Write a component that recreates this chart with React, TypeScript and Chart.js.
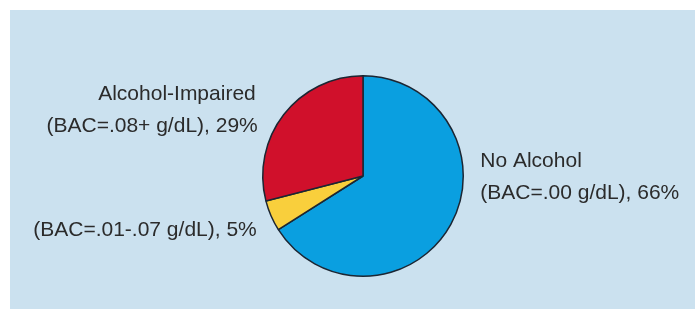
import React, { useEffect, useRef } from "react";
import { Chart, registerables } from "chart.js";

Chart.register(...registerables);

const categories = ["No Alcohol", "BAC=.01-.07", "Alcohol-Impaired"];
const values = [66, 5, 29];
const colors = ["#0a9fe0", "#f9cf3c", "#d0102b"];
const labelLines = [
  ["No Alcohol", "(BAC=.00 g/dL), 66%"],
  ["(BAC=.01-.07 g/dL), 5%"],
  ["Alcohol-Impaired", "(BAC=.08+ g/dL), 29%"],
];

const bgPlugin = {
  id: "panelBg",
  beforeDraw(chart: any) {
    const ctx = chart.ctx;
    ctx.save();
    ctx.fillStyle = "#ffffff";
    ctx.fillRect(0, 0, chart.width, chart.height);
    ctx.fillStyle = "#cbe1ef";
    ctx.fillRect(10, 10, chart.width - 10, chart.height - 10);
    ctx.restore();
  },
};

const labelPlugin = {
  id: "sliceLabels",
  afterDraw(chart: any) {
    const ctx = chart.ctx;
    const meta = chart.getDatasetMeta(0);
    const arc = meta.data[0];
    const cx = arc.x;
    const cy = arc.y;
    const r = arc.outerRadius;
    ctx.save();
    ctx.fillStyle = "#2b2b2b";
    ctx.font = "21px 'Liberation Sans', Arial, sans-serif";
    ctx.textBaseline = "middle";
    // No Alcohol (right)
    ctx.textAlign = "left";
    ctx.fillText(labelLines[0][0], cx + r + 17, cy - 15);
    ctx.fillText(labelLines[0][1], cx + r + 17, cy + 17);
    // 5% (left lower)
    ctx.textAlign = "right";
    ctx.fillText(labelLines[1][0], cx - r - 6, cy + 54);
    // Alcohol-Impaired (left upper)
    ctx.fillText(labelLines[2][0], cx - r - 7, cy - 82);
    ctx.fillText(labelLines[2][1], cx - r - 5, cy - 50);
    ctx.restore();
  },
};

export default function App() {
  const ref = useRef<HTMLCanvasElement | null>(null);
  useEffect(() => {
    if (!ref.current) return;
    const chart = new Chart(ref.current, {
      type: "pie",
      data: {
        labels: categories,
        datasets: [
          {
            data: values,
            backgroundColor: colors,
            borderColor: "#1c2633",
            borderWidth: 1.5,
          },
        ],
      },
      options: {
        animation: false,
        responsive: false,
        layout: { padding: { left: 262, right: 231, top: 75, bottom: 32 } },
        plugins: { legend: { display: false }, tooltip: { enabled: false } },
      },
      plugins: [bgPlugin, labelPlugin],
    });
    return () => chart.destroy();
  }, []);
  return (
    <div style={{ position: "absolute", left: 0, top: 0, width: 695, height: 309 }}>
      <canvas ref={ref} width={695} height={309} />
    </div>
  );
}
